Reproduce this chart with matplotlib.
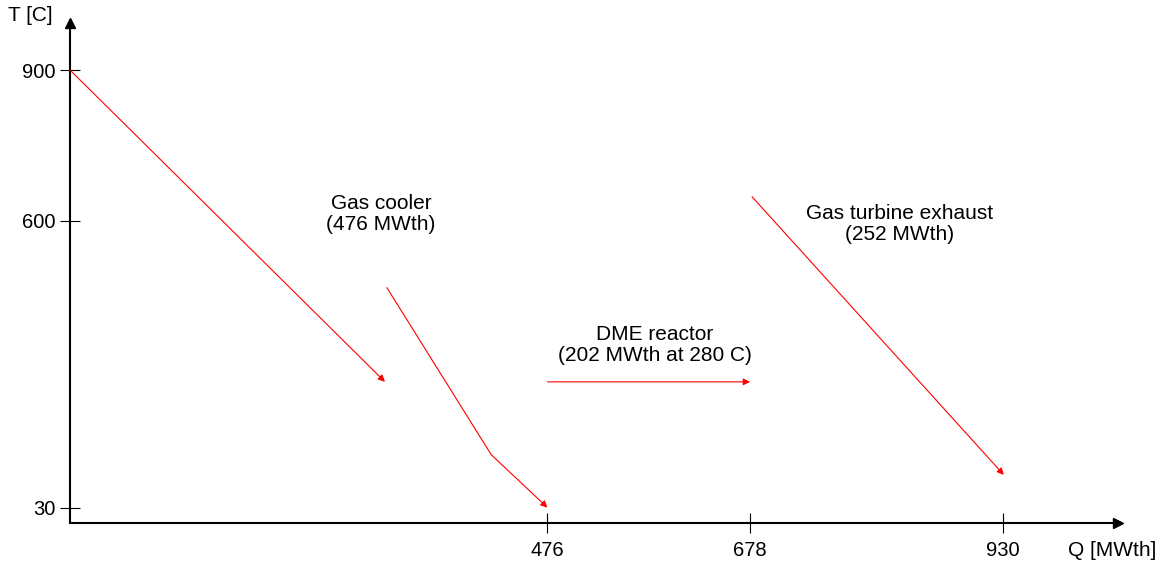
import matplotlib.pyplot as plt

plt.rcParams['font.family'] = ['Liberation Sans', 'DejaVu Sans']
plt.rcParams['font.size'] = 15

# Q/T schematic data (MWth, C)
gas_cooler_q = [0, 314]
gas_cooler_t = [900, 280]
syngas_q = [316, 420, 476]
syngas_t = [467, 135, 30]
dme_q = [476, 678]
dme_t = [280, 280]
gt_exhaust_q = [680, 931]
gt_exhaust_t = [648, 95]

x_ticks = [476, 678, 930]
y_ticks = [30, 600, 900]

labels = [
    ("Gas cooler\n(476 MWth)", 310, 614),
    ("DME reactor\n(202 MWth at 280 C)", 583, 353),
    ("Gas turbine exhaust\n(252 MWth)", 827, 594),
]

fig = plt.figure(figsize=(11.64, 5.62), dpi=100)
ax = fig.add_axes([0, 0, 1, 1])
ax.set_xlim(-69.8, 1090.7)
ax.set_ylim(-78.2, 1039.2)

# axes drawn as arrows through the origin
for side in ['top', 'right']:
    ax.spines[side].set_visible(False)
ax.spines['left'].set_position(('data', 0))
ax.spines['bottom'].set_position(('data', 0))
ax.spines['left'].set_bounds(0, 993)
ax.spines['bottom'].set_bounds(0, 1045)
ax.spines['left'].set_linewidth(1.5)
ax.spines['bottom'].set_linewidth(1.5)
ax.plot(1045, 0, marker='>', color='black', markersize=7, clip_on=False)
ax.plot(0, 993, marker='^', color='black', markersize=7, clip_on=False)

ax.set_xticks(x_ticks)
ax.set_yticks(y_ticks)
ax.tick_params(axis='both', direction='inout', length=14.4, width=0.8,
               labelsize=14.5)
ax.tick_params(axis='x', pad=6)
ax.tick_params(axis='y', pad=3)

ax.text(-40, 1009, "T [C]", ha='center', va='center')
ax.text(1039, -56, "Q [MWth]", ha='center', va='center')

arrow = dict(arrowstyle='-|>', color='red', lw=0.8, mutation_scale=10,
             shrinkA=0, shrinkB=0)

ax.annotate('', xy=(gas_cooler_q[1], gas_cooler_t[1]),
            xytext=(gas_cooler_q[0], gas_cooler_t[0]), arrowprops=arrow)
ax.plot(syngas_q[:2], syngas_t[:2], color='red', lw=0.8)
ax.annotate('', xy=(syngas_q[2], syngas_t[2]),
            xytext=(syngas_q[1], syngas_t[1]), arrowprops=arrow)
ax.annotate('', xy=(dme_q[1], dme_t[1]),
            xytext=(dme_q[0], dme_t[0]), arrowprops=arrow)
ax.annotate('', xy=(gt_exhaust_q[1], gt_exhaust_t[1]),
            xytext=(gt_exhaust_q[0], gt_exhaust_t[0]), arrowprops=arrow)

for txt, q, t in labels:
    ax.text(q, t, txt, ha='center', va='center', linespacing=1.1)

fig.savefig('out.png', dpi=100)
